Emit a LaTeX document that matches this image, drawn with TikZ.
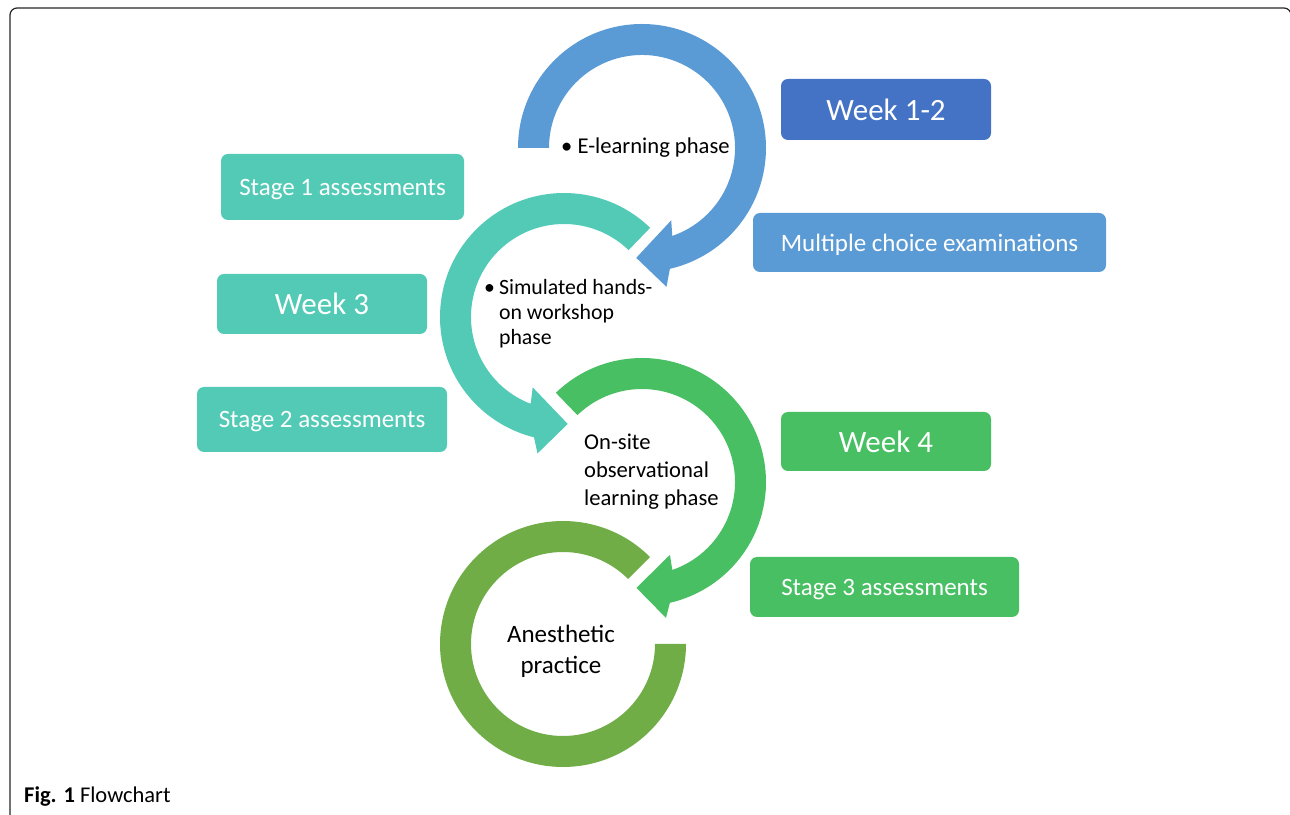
\documentclass[tikz,border=0pt]{standalone}
\usepackage{fontspec}
\setmainfont{Carlito}
\definecolor{weekblue}{HTML}{4472C4}
\definecolor{ringblue}{HTML}{5B9BD5}
\definecolor{ringteal}{HTML}{52CAB6}
\definecolor{ringgreen}{HTML}{48BF63}
\definecolor{ringolive}{HTML}{70AD47}
\newcommand\lowtext[1]{\raisebox{-2.5pt}[\height][\depth]{#1}}
\tikzset{
  infobox/.style={rounded corners=7pt, text=white, inner sep=0pt, align=center},
  weekbox/.style={infobox, font=\fontsize{31}{36}\selectfont},
  testbox/.style={infobox, font=\fontsize{25}{30}\selectfont},
  phase/.style={inner sep=0pt, text=black}
}
\begin{document}
\begin{tikzpicture}[x=1pt,y=1pt]
\useasboundingbox (0,0) rectangle (1290,814);
\def\bluering{(180:124pt) arc[start angle=180,end angle=-77,radius=124pt] -- (-80:141pt) -- (-93:110pt) -- (-68:78pt) -- (-71:93pt) arc[start angle=-71,end angle=180,radius=93pt] -- cycle}
\def\tealring{(46:124pt) arc[start angle=46,end angle=256,radius=124pt] -- (259:139pt) -- (272:107pt) -- (246:77pt) -- (249:93pt) arc[start angle=249,end angle=46,radius=93pt] -- cycle}
\def\greenring{(134:124pt) arc[start angle=134,end angle=-77,radius=124pt] -- (-80:138pt) -- (-93:106pt) -- (-69:78pt) -- (-71:93pt) arc[start angle=-71,end angle=134,radius=93pt] -- cycle}
\def\olivering{(45:123pt) arc[start angle=45,end angle=360,radius=123pt] -- (0:92pt) arc[start angle=360,end angle=45,radius=92pt] -- cycle}

% frame
\draw[line width=1.2pt, black!85, rounded corners=7pt] (1291,-6) -- (1291,806) -- (10,806) -- (10,-6);

% the four phases
\fill[ringolive, shift={(563,170)}] \olivering;
\fill[ringgreen, shift={(642,332)}] \greenring;
\fill[ringteal, shift={(564,497)}] \tealring;
\fill[ringblue, shift={(642,666)}] \bluering;

\node[phase, anchor=west, font=\fontsize{22.6}{26}\selectfont] (elearn) at (561,666) {\textbullet\ E-learning phase};
\node[phase, anchor=west, font=\fontsize{21.8}{25}\selectfont] (workshop) at (484,499)
  {\begin{tabular}{@{}l@{\hspace{4pt}}l@{}}\textbullet & Simulated hands-\\ & on workshop\\ & phase\end{tabular}};
\node[phase, anchor=west, align=left, font=\fontsize{22.6}{28}\selectfont] (onsite) at (584,342) {On-site\\observational\\learning phase};
\node[phase, align=center, font=\fontsize{25}{31}\selectfont] (practice) at (561,163) {Anesthetic\\practice};

% weeks and assessments
\node[weekbox, fill=weekblue, minimum width=210pt, minimum height=61pt] (week12) at (886,704.5) {Week 1-2};
\node[testbox, fill=ringblue, minimum width=353pt, minimum height=59pt] (mcq) at (929.5,571.5) {\lowtext{Multiple choice examinations}};
\node[testbox, fill=ringteal, minimum width=243pt, minimum height=66pt] (stage1) at (342.5,627) {\lowtext{Stage 1 assessments}};
\node[weekbox, fill=ringteal, minimum width=210pt, minimum height=60pt] (week3) at (322,510) {Week 3};
\node[testbox, fill=ringteal, minimum width=250pt, minimum height=65pt] (stage2) at (322,394.5) {\lowtext{Stage 2 assessments}};
\node[weekbox, fill=ringgreen, minimum width=210pt, minimum height=59pt] (week4) at (886,372.5) {Week 4};
\node[testbox, fill=ringgreen, minimum width=269pt, minimum height=60pt] (stage3) at (884.5,227) {\lowtext{Stage 3 assessments}};

\node[anchor=base west, inner sep=0pt, font=\fontsize{22.5}{26}\selectfont] (caption) at (24,12) {\textbf{Fig. 1} Flowchart};
\end{tikzpicture}
\end{document}
